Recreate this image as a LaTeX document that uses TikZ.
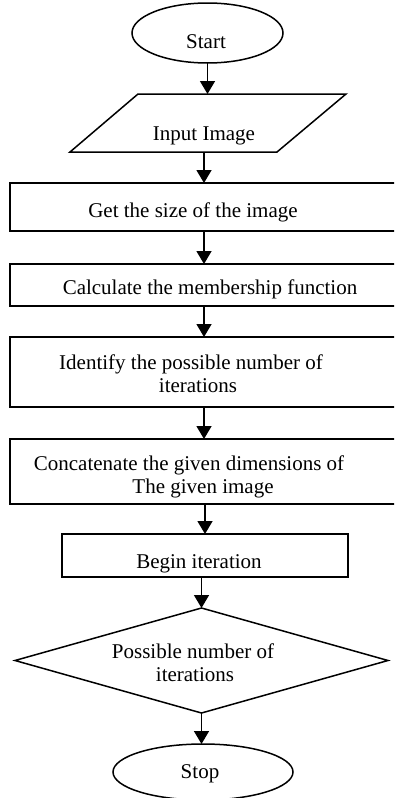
\documentclass[tikz,border=0pt]{standalone}
\usepackage{fontspec}
\setmainfont{Liberation Serif}
\usetikzlibrary{shapes.geometric,arrows.meta,calc}
\begin{document}
\begin{tikzpicture}[x=1pt,y=-1pt,
  every node/.style={inner sep=0pt, outer sep=0pt},
  shapeline/.style={draw=black, line width=1.5pt},
  procbox/.style={shapeline, rectangle, minimum width=388pt},
  lbl/.style={anchor=base, font=\fontsize{21}{24}\selectfont},
  flow/.style={line width=1.5pt, -{Triangle[length=13pt,width=15pt]}}]
\useasboundingbox (0,0) rectangle (394,798);
\clip (0,0) rectangle (394,798);
% shapes
\node[ellipse, shapeline, minimum width=151pt, minimum height=60pt] (start) at (207.5,33) {};
\node[minimum width=276pt, minimum height=58pt] (input) at (208,123) {};
\draw[shapeline, line join=miter] ($(input.north west)+(68,0)$) -- (input.north east)
  -- ($(input.south east)+(-69,0)$) -- (input.south west) -- cycle;
\node[procbox, minimum height=48pt] (box1) at (204,207) {};
\node[procbox, minimum height=42pt] (box2) at (204,285) {};
\node[procbox, minimum height=70pt] (box3) at (204,372) {};
\node[procbox, minimum height=65pt] (box4) at (204,471.5) {};
\node[shapeline, rectangle, minimum width=286pt, minimum height=43pt] (box5) at (205,555.5) {};
\node[diamond, shapeline, minimum width=373pt, minimum height=105pt] (dec) at (201.5,660.5) {};
\node[ellipse, shapeline, minimum width=180pt, minimum height=56pt] (stop) at (203,772) {};
% texts
\node[lbl] (tstart) at (206,48) {Start};
\node[lbl] (tinput) at (204,140) {Input Image};
\node[lbl] (t1) at (193,217) {Get the size of the image};
\node[lbl] (t2) at (210,294) {Calculate the membership function};
\node[lbl] (t3a) at (191,369) {Identify the possible number of};
\node[lbl] (t3b) at (198,392) {iterations};
\node[lbl] (t4a) at (189,470) {Concatenate the given dimensions of};
\node[lbl] (t4b) at (203,493) {The given image};
\node[lbl] (t5) at (199,568) {Begin iteration};
\node[lbl] (t6a) at (193,658) {Possible number of};
\node[lbl] (t6b) at (195,681) {iterations};
\node[lbl] (tstop) at (200,778) {Stop};
% connectors
\draw[flow] (start.south) -- (start.south |- input.north);
\draw[flow] (input.south -| box1.north) -- (box1.north);
\draw[flow] (box1.south) -- (box2.north);
\draw[flow] (box2.south) -- (box3.north);
\draw[flow] (box3.south) -- (box4.north);
\draw[flow] (box4.south -| box5.north) -- (box5.north);
\draw[flow] (box5.south -| dec.north) -- (dec.north);
\draw[flow] (dec.south) -- (dec.south |- stop.north);
\end{tikzpicture}
\end{document}
